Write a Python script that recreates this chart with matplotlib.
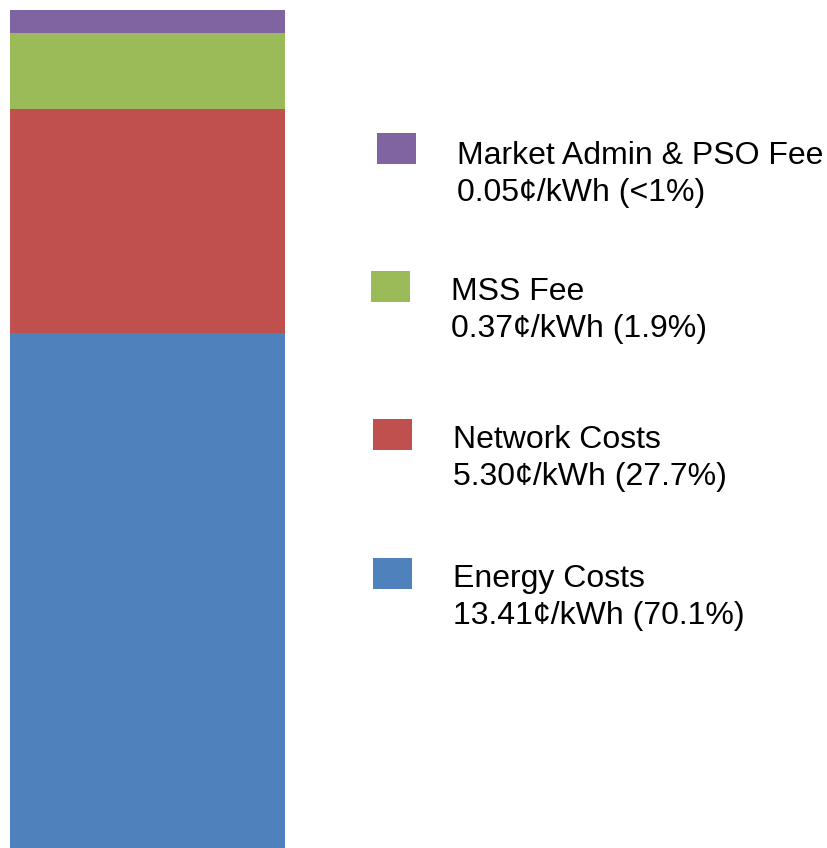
import matplotlib
matplotlib.use("Agg")
import matplotlib.pyplot as plt
from matplotlib.patches import Rectangle

plt.rcParams['font.family'] = ['Liberation Sans', 'DejaVu Sans']

# components, bottom to top
names = ["Energy Costs", "Network Costs", "MSS Fee", "Market Admin & PSO Fee"]
prices = ["13.41", "5.30", "0.37", "0.05"]
shares = ["70.1%", "27.7%", "1.9%", "<1%"]
# segment heights as drawn in the picture (share of bar, %)
drawn = [61.4, 26.8, 9.1, 2.7]
colors = ["#4f81bd", "#c0504d", "#9bbb59", "#8064a2"]

W, H = 827, 848
fig = plt.figure(figsize=(W / 100, H / 100), dpi=100)

# the bar
ax = fig.add_axes([10 / W, 0, 275 / W, 838 / H])
bottom = 0
for h, c in zip(drawn, colors):
    ax.bar(0, h, width=1, bottom=bottom, color=c, linewidth=0)
    bottom += h
ax.set_xlim(-0.5, 0.5)
ax.set_ylim(0, bottom)
ax.axis("off")

# legend, laid out in pixel coordinates
lg = fig.add_axes([0, 0, 1, 1])
lg.set_xlim(0, W)
lg.set_ylim(H, 0)
lg.axis("off")
# (patch x, patch y, text x, first baseline) per entry, bottom to top
spots = [(373, 558, 453, 587), (373, 419, 453, 448), (371, 271, 451, 300), (377, 133, 457, 164)]
for name, p, s, c, (px, py, tx, ty) in zip(names, prices, shares, colors, spots):
    lg.add_patch(Rectangle((px, py), 39, 31, color=c, linewidth=0))
    lg.text(tx, ty, name, fontsize=23, va="baseline", ha="left")
    lg.text(tx, ty + 37, f"{p}¢/kWh ({s})", fontsize=23, va="baseline", ha="left")

fig.savefig("out.png", dpi=100)
